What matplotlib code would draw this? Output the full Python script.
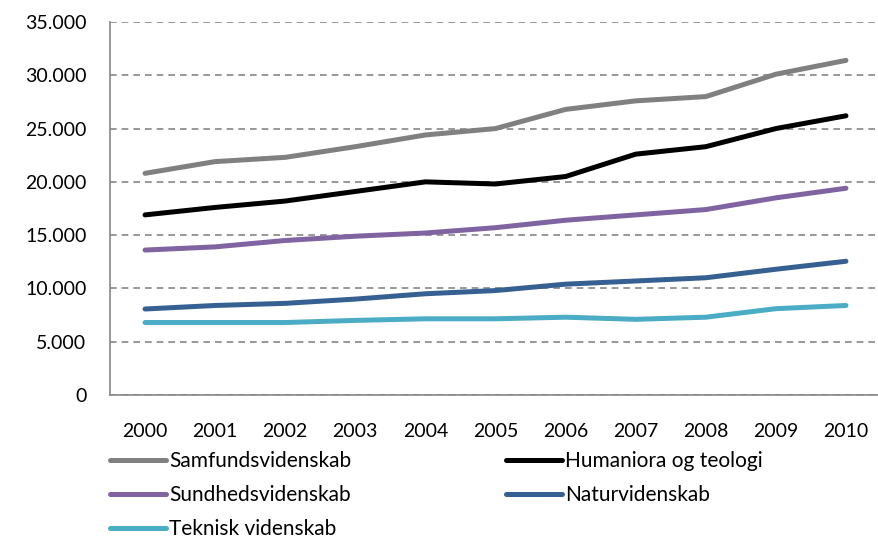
import matplotlib
matplotlib.use("Agg")
import matplotlib.pyplot as plt
from matplotlib.ticker import FuncFormatter, MultipleLocator

years = ['2000', '2001', '2002', '2003', '2004', '2005', '2006', '2007', '2008', '2009', '2010']

samfund = [20800, 21900, 22300, 23300, 24400, 25000, 26800, 27600, 28000, 30100, 31400]
humaniora = [16900, 17600, 18200, 19100, 20000, 19800, 20500, 22600, 23300, 25000, 26200]
sundhed = [13600, 13900, 14500, 14900, 15200, 15700, 16400, 16900, 17400, 18500, 19400]
natur = [8070, 8400, 8600, 9000, 9500, 9800, 10400, 10700, 11000, 11800, 12550]
teknisk = [6800, 6800, 6800, 7000, 7150, 7150, 7300, 7100, 7300, 8100, 8400]

plt.rcParams['font.family'] = ['Lato', 'DejaVu Sans']

fig = plt.figure(figsize=(8.79, 5.41), dpi=100)
ax = fig.add_axes([110 / 879, 1 - 395 / 541, 771 / 879, 373 / 541])

x = range(len(years))
lw = 3.6
l1, = ax.plot(x, samfund, color='#808080', lw=lw, solid_capstyle='round', label='Samfundsvidenskab')
l2, = ax.plot(x, humaniora, color='#000000', lw=lw, solid_capstyle='round', label='Humaniora og teologi')
l3, = ax.plot(x, sundhed, color='#8064A2', lw=lw, solid_capstyle='round', label='Sundhedsvidenskab')
l4, = ax.plot(x, natur, color='#376092', lw=lw, solid_capstyle='round', label='Naturvidenskab')
l5, = ax.plot(x, teknisk, color='#4BACC6', lw=lw, solid_capstyle='round', label='Teknisk videnskab')

ax.set_xlim(-0.5, len(years) - 0.5)
ax.set_ylim(0, 35000)
ax.set_xticks(list(x))
ax.set_xticklabels(years)
ax.yaxis.set_major_locator(MultipleLocator(5000))
ax.yaxis.set_major_formatter(FuncFormatter(lambda v, p: '0' if v == 0 else f'{int(v):,}'.replace(',', '.')))

ax.grid(axis='y', color='#868686', linestyle=(0, (4, 3)), lw=1.2)
ax.set_axisbelow(True)
for s in ['top', 'right']:
    ax.spines[s].set_visible(False)
for s in ['left', 'bottom']:
    ax.spines[s].set_color('#868686')
    ax.spines[s].set_linewidth(1.2)
ax.tick_params(axis='both', length=0, labelsize=14)
ax.tick_params(axis='y', pad=17)
ax.tick_params(axis='x', pad=20)

handles = [l1, l3, l5, l2, l4]
fig.legend(handles=handles, labels=[h.get_label() for h in handles], ncol=2,
           loc='upper left', bbox_to_anchor=(110 / 879, 1 - 451 / 541),
           frameon=False, fontsize=15, handlelength=2.7, handletextpad=0.15,
           columnspacing=7.4, labelspacing=0.68, borderpad=0, borderaxespad=0)

fig.savefig('out.png', dpi=100)
